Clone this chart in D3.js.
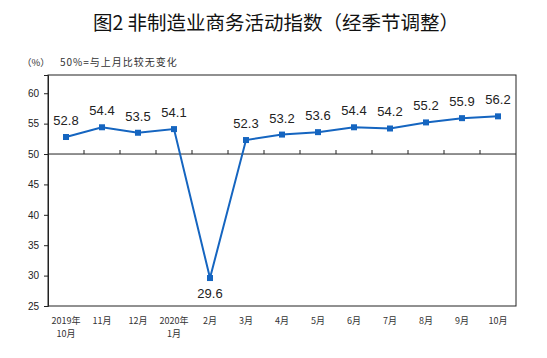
<!DOCTYPE html>
<html><head><meta charset="utf-8">
<script src="https://cdn.jsdelivr.net/npm/d3@7"></script>
<style>body{margin:0;background:#fff;} svg{display:block;}</style>
</head><body>
<svg id="c" width="547" height="358"></svg>
<script>
const categories = ["2019年|10月","11月","12月","2020年|1月","2月","3月","4月","5月","6月","7月","8月","9月","10月"];
const values = [52.8,54.4,53.5,54.1,29.6,52.3,53.2,53.6,54.4,54.2,55.2,55.9,56.2];
const yTicks = [25,30,35,40,45,50,55,60];
const title = "图2 非制造业商务活动指数（经季节调整）";
const unitLabel = "（%）";
const note = "50%=与上月比较无变化";

const svg = d3.select("#c");
const L=48, R=516, T=75, B=306;
const x = d3.scaleBand().domain(categories).range([L,R]);
const y = d3.scaleLinear().domain([25,63]).range([B,T]);
const lineColor = "#1565c0";
const font = "'Liberation Sans', Arial, 'Noto Sans CJK SC', sans-serif";
const cjk = "'Noto Sans CJK SC', sans-serif";

svg.append("text").attr("x",276).attr("y",30).attr("text-anchor","middle")
  .attr("font-family",cjk).attr("font-size",19.5).attr("font-weight",400)
  .attr("fill","#111").text(title);
svg.append("text").attr("x",22).attr("y",66).attr("font-family",cjk)
  .attr("font-size",9.5).attr("fill","#333").text(unitLabel);
svg.append("text").attr("x",60).attr("y",66).attr("font-family",cjk)
  .attr("font-size",10).attr("letter-spacing",1).attr("fill","#333").text(note);

// frame
svg.append("rect").attr("x",L).attr("y",T).attr("width",R-L).attr("height",B-T)
  .attr("fill","none").attr("stroke","#222").attr("stroke-width",1);

// y axis
const ya = svg.append("g").attr("transform",`translate(${L},0)`)
  .call(d3.axisLeft(y).tickValues(yTicks).tickSize(4).tickPadding(5));
ya.select(".domain").attr("stroke","#222");
ya.selectAll(".tick line").attr("stroke","#222");
ya.selectAll("text").attr("font-family",font).attr("font-size",10).attr("fill","#222");

// 50 line with upward ticks at band boundaries
const xa = svg.append("g").attr("transform",`translate(0,${y(50)})`);
xa.append("line").attr("x1",L).attr("x2",R).attr("stroke","#222").attr("stroke-width",1);
categories.slice(1).forEach(c=>{
  xa.append("line").attr("x1",x(c)).attr("x2",x(c)).attr("y1",0).attr("y2",-4).attr("stroke","#222");
});

// x labels
const cx = c => x(c)+x.bandwidth()/2;
categories.forEach(c=>{
  const parts=c.split("|");
  const t=svg.append("text").attr("x",cx(c)).attr("y",324).attr("text-anchor","middle")
    .attr("font-family",cjk).attr("font-size",9).attr("fill","#333");
  parts.forEach((p,i)=>t.append("tspan").attr("x",cx(c)).attr("dy",i?13:0).text(p));
});

// line
const data = categories.map((c,i)=>({c,v:values[i]}));
svg.append("path").datum(data).attr("fill","none").attr("stroke",lineColor).attr("stroke-width",2)
  .attr("d",d3.line().x(d=>cx(d.c)).y(d=>y(d.v)));
svg.selectAll("rect.m").data(data).join("rect").attr("class","m")
  .attr("x",d=>cx(d.c)-3).attr("y",d=>y(d.v)-3).attr("width",6).attr("height",6).attr("fill",lineColor);

// labels
svg.selectAll("text.v").data(data).join("text").attr("class","v")
  .attr("x",d=>cx(d.c)).attr("y",(d,i)=>d.v<40 ? y(d.v)+20 : y(d.v)-12)
  .attr("text-anchor","middle").attr("font-family",font).attr("font-size",13).attr("fill","#222")
  .text(d=>d.v.toFixed(1));
</script>
</body></html>
